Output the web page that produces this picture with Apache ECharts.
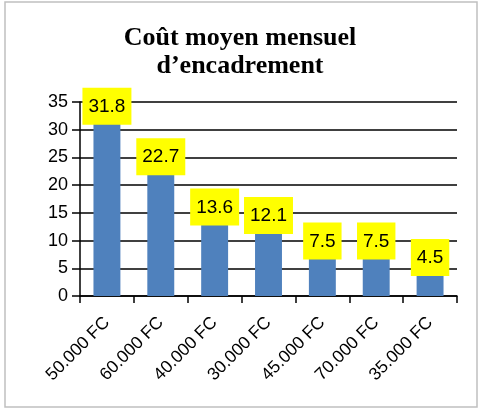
<!DOCTYPE html>
<html><head><meta charset="utf-8">
<script src="https://cdn.jsdelivr.net/npm/echarts@6/dist/echarts.min.js"></script>
<style>html,body{margin:0;padding:0;background:#fff}#c{width:480px;height:409px}</style>
</head><body><div id="c"></div>
<script>
var categories = ['50.000 FC','60.000 FC','40.000 FC','30.000 FC','45.000 FC','70.000 FC','35.000 FC'];
var values = [31.8, 22.7, 13.6, 12.1, 7.5, 7.5, 4.5];
var titleText = 'Coût moyen mensuel\nd\u2019encadrement';
var chart = echarts.init(document.getElementById('c'));
chart.setOption({
  animation:false,
  backgroundColor:'#fff',
  graphic:[{type:'rect',shape:{x:5,y:2,width:472,height:405},style:{fill:'none',stroke:'#c0c0c0',lineWidth:1.5}}],
  title:{text:titleText,left:'center',top:19,textStyle:{fontFamily:'Liberation Serif',fontWeight:'bold',fontSize:26,lineHeight:28,color:'#000'}},
  grid:{left:80,right:23,top:102,bottom:113,containLabel:false},
  xAxis:{type:'category',data:categories,
    axisLine:{lineStyle:{color:'#000',width:1.5}},
    axisTick:{show:true,length:7,lineStyle:{color:'#000',width:1.5}},
    axisLabel:{rotate:45,fontFamily:'Liberation Sans',fontSize:17.5,color:'#000',margin:24,interval:0}},
  yAxis:{type:'value',min:0,max:35,interval:5,
    axisLine:{show:true,lineStyle:{color:'#000',width:1.5}},
    axisTick:{show:true,length:8,lineStyle:{color:'#000',width:1.5}},
    splitLine:{lineStyle:{color:'#000',width:1.6}},
    axisLabel:{fontFamily:'Liberation Sans',fontSize:18,color:'#000',margin:12}},
  series:[{type:'bar',data:values,barWidth:'50%',
    itemStyle:{color:'#4F81BD'},
    label:{show:true,position:'top',distance:-5,backgroundColor:'#FFFF00',padding:[8,6,7,6],
      fontFamily:'Liberation Sans',fontSize:19,color:'#000',lineHeight:22}}]
});
</script></body></html>
